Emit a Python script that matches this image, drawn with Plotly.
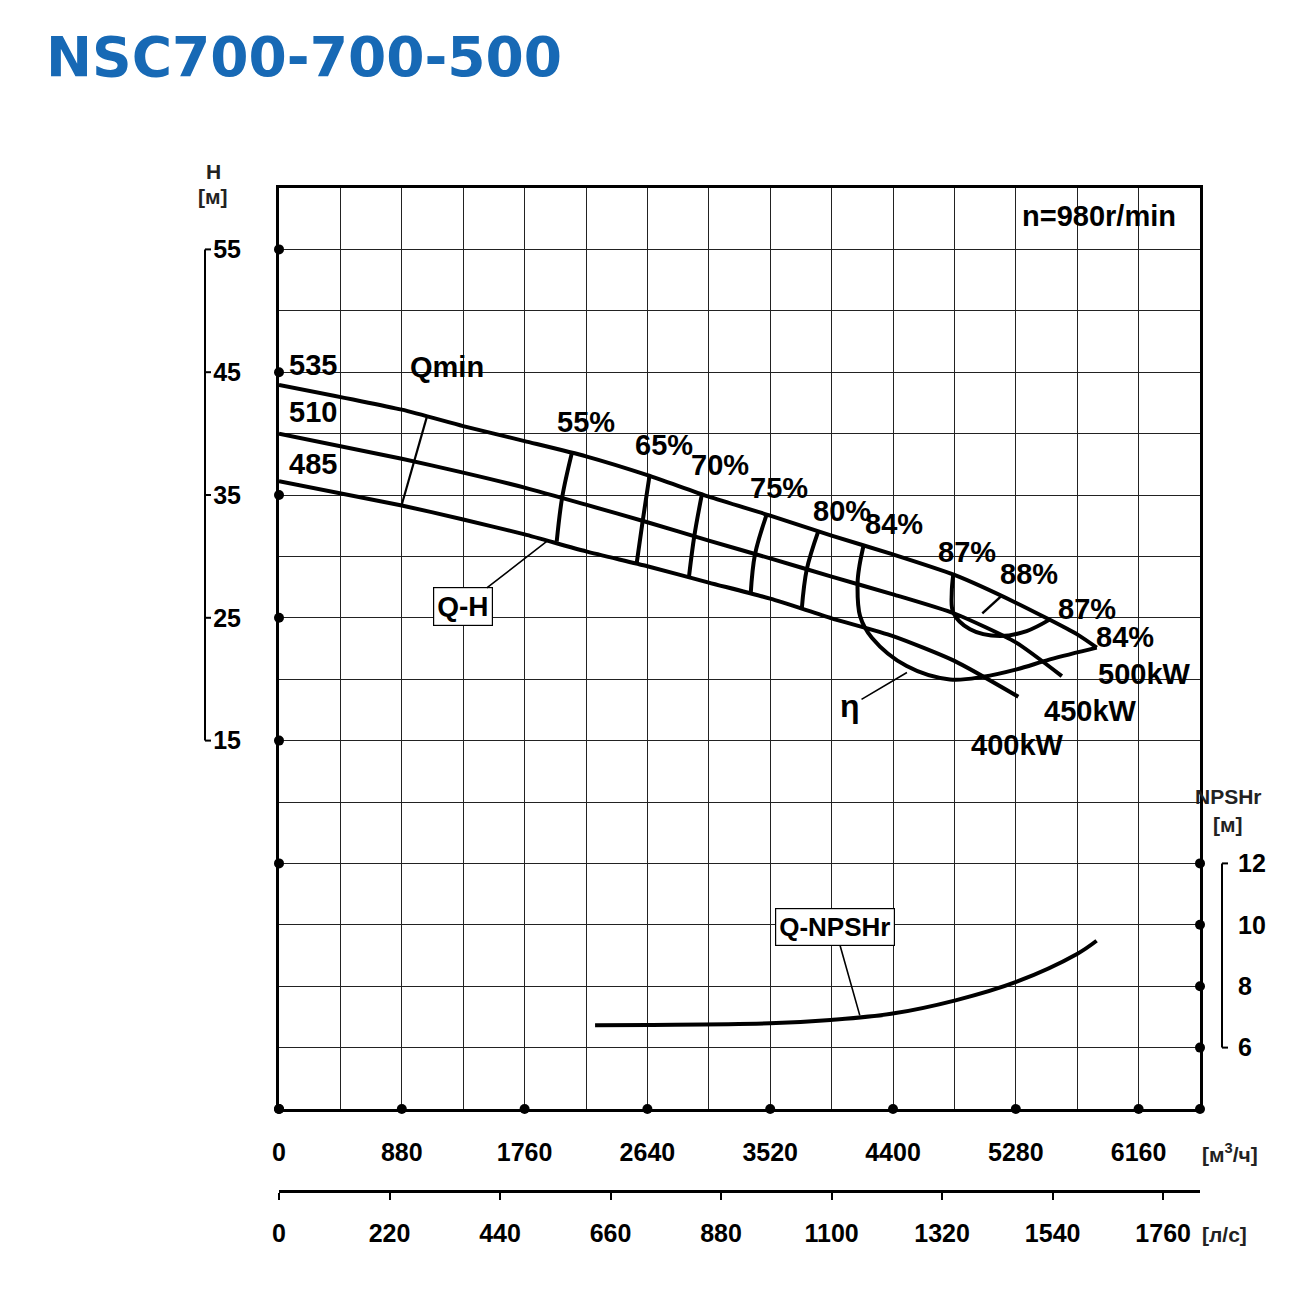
import plotly.graph_objects as go

# ---------------- data ----------------
# Q-H curves (Q in m3/h, H in m) for impeller diameters
q_535 = [0, 880, 1320, 1760, 2200, 2640, 3080, 3520, 3960, 4400, 4840, 5280, 5720, 5860]
h_535 = [43.97, 41.95, 40.61, 39.39, 38.15, 36.62, 34.87, 33.32, 31.69, 30.16, 28.49, 26.23, 23.65, 22.57]
q_510 = [0, 880, 1320, 1760, 2200, 2640, 3080, 3520, 3960, 4400, 4840, 5280, 5610]
h_510 = [40.0, 37.95, 36.82, 35.6, 34.21, 32.78, 31.29, 29.84, 28.35, 26.91, 25.35, 23.0, 20.25]
q_485 = [0, 880, 1320, 1760, 2200, 2640, 3080, 3520, 3960, 4400, 4840, 5298]
h_485 = [36.13, 34.14, 33.01, 31.79, 30.41, 29.2, 27.87, 26.56, 24.96, 23.51, 21.49, 18.57]

# iso-efficiency segments (top -> middle -> bottom curve)
eff_names = ["55%", "65%", "70%", "75%", "80%"]
eff_q = [[2098, 2030, 1990], [2654, 2606, 2563], [3029, 2976, 2938], [3495, 3411, 3380], [3865, 3782, 3746]]
eff_h = [[38.39, 34.86, 31.2], [36.49, 32.87, 29.43], [34.97, 31.65, 28.35], [33.42, 30.16, 26.91], [32.06, 28.94, 25.68]]

# iso-efficiency loops
q_84 = [4187, 4159, 4146, 4164, 4250, 4498, 4808, 5047, 5286, 5525, 5860]
h_84 = [30.79, 29.2, 27.8, 25.14, 23.36, 21.07, 19.98, 20.2, 20.8, 21.61, 22.57]
q_87 = [4832, 4821, 4832, 4952, 5167, 5358, 5525]
h_87 = [28.53, 27.04, 25.42, 24.06, 23.51, 23.92, 24.87]
q_88 = [5040, 5172]
h_88 = [25.36, 26.72]

# minimum flow line
q_min = [1058, 879]
h_min = [41.3, 34.18]

# Q-NPSHr curve (m)
q_npsh = [2265, 2648, 3518, 3952, 4387, 4848, 5283, 5719, 5859]
npsh = [6.73, 6.74, 6.79, 6.90, 7.10, 7.54, 8.14, 9.05, 9.48]

# text labels: (text, Q, H)
curve_labels = [("535", 244, 45.55), ("510", 244, 41.73), ("485", 244, 37.49),
                ("Qmin", 1204, 45.39),
                ("55%", 2200, 40.91), ("65%", 2759, 39.04), ("70%", 3160, 37.41),
                ("75%", 3583, 35.54), ("80%", 4035, 33.66), ("84%", 4407, 32.61),
                ("87%", 4930, 30.33), ("88%", 5375, 28.53), ("87%", 5790, 25.68),
                ("84%", 6063, 23.40), ("500kW", 6199, 20.39), ("450kW", 5812, 17.38),
                ("400kW", 5289, 14.61), ("n=980r/min", 5876, 57.69)]

# axes
q_grid = list(range(0, 6601, 440))
q_tick_labels = ["0", "", "880", "", "1760", "", "2640", "", "3520", "", "4400", "", "5280", "", "6160", ""]
h_grid = list(range(-15, 61, 5))
h_labeled = [55, 45, 35, 25, 15]
h_dots = [55, 45, 35, 25, 15, 5, -15]
q_dots = [0, 880, 1760, 2640, 3520, 4400, 5280, 6160]
npsh_ticks = [6, 8, 10, 12]
npsh_dots = [12, 10, 8, 6, 4]
ls_ticks = [0, 220, 440, 660, 880, 1100, 1320, 1540, 1760]

title_text = "NSC700-700-500"

# ---------------- layout helpers ----------------
W, Hpx = 1310, 1295
X0, X1 = 279 / W, 1200 / W
Y0, Y1 = 1 - 1109 / Hpx, 1 - 188 / Hpx

FONT = "Liberation Sans, Arial, sans-serif"
LW = 4

fig = go.Figure()

for q, h in [(q_535, h_535), (q_510, h_510), (q_485, h_485)]:
    fig.add_trace(go.Scatter(x=q, y=h, mode="lines", line=dict(color="black", width=LW, shape="spline", smoothing=0.6),
                             showlegend=False, hoverinfo="skip"))

for q, h in zip(eff_q, eff_h):
    fig.add_trace(go.Scatter(x=q, y=h, mode="lines", line=dict(color="black", width=LW, shape="spline"),
                             showlegend=False, hoverinfo="skip"))

for q, h, w in [(q_84, h_84, LW), (q_87, h_87, LW), (q_88, h_88, 2.5), (q_min, h_min, 2.2)]:
    fig.add_trace(go.Scatter(x=q, y=h, mode="lines", line=dict(color="black", width=w, shape="spline"),
                             showlegend=False, hoverinfo="skip"))

fig.add_trace(go.Scatter(x=q_npsh, y=npsh, yaxis="y2", mode="lines",
                         line=dict(color="black", width=LW, shape="spline"), showlegend=False, hoverinfo="skip"))

# invisible trace to activate the l/s axis
fig.add_trace(go.Scatter(x=[q / 3.6 for q in q_npsh], y=npsh, xaxis="x2", yaxis="y2", mode="lines",
                         line=dict(width=0), opacity=0, showlegend=False, hoverinfo="skip"))

# axis dots
fig.add_trace(go.Scatter(x=[0] * len(h_dots), y=h_dots, mode="markers", marker=dict(color="black", size=10),
                         cliponaxis=False, showlegend=False, hoverinfo="skip"))
fig.add_trace(go.Scatter(x=q_dots, y=[-15] * len(q_dots), mode="markers", marker=dict(color="black", size=10),
                         cliponaxis=False, showlegend=False, hoverinfo="skip"))
fig.add_trace(go.Scatter(x=[6600] * len(npsh_dots), y=npsh_dots, yaxis="y2", mode="markers",
                         marker=dict(color="black", size=10), cliponaxis=False, showlegend=False, hoverinfo="skip"))

ann = []
for t, q, h in curve_labels:
    ann.append(dict(text=t, x=q, y=h, xref="x", yref="y", showarrow=False,
                    font=dict(family=FONT, size=29, color="black", weight="bold")))

# boxed labels with leaders
ann.append(dict(text="Q-H", x=1928, y=31.3, ax=1315, ay=25.89, xref="x", yref="y", axref="x", ayref="y",
                showarrow=True, arrowhead=0, arrowwidth=1.6, arrowcolor="black",
                bordercolor="black", borderwidth=1.2, borderpad=3, bgcolor="white",
                font=dict(family=FONT, size=28, color="black", weight="bold")))
ann.append(dict(text="Q-NPSHr", x=4162, y=7.05, ax=3984, ay=9.92, xref="x", yref="y2", axref="x", ayref="y2",
                showarrow=True, arrowhead=0, arrowwidth=1.6, arrowcolor="black",
                bordercolor="black", borderwidth=1.2, borderpad=3, bgcolor="white",
                font=dict(family=FONT, size=26, color="black", weight="bold")))
ann.append(dict(text="η", x=4500, y=20.55, ax=4092, ay=17.8, xref="x", yref="y", axref="x", ayref="y",
                showarrow=True, arrowhead=0, arrowwidth=1.6, arrowcolor="black",
                font=dict(family=FONT, size=32, color="black", weight="bold")))

# axis unit labels
for t, px, py in [("H", 213, 171), ("[м]", 213, 197), ("NPSHr", 1228, 797), ("[м]", 1228, 824),
                  ("[м<sup>3</sup>/ч]", 1230, 1153), ("[л/с]", 1224, 1234)]:
    ann.append(dict(text=t, x=px / W, y=1 - py / Hpx, xref="paper", yref="paper", showarrow=False,
                    xanchor="center", yanchor="middle",
                    font=dict(family=FONT, size=21, color="#222", weight="bold")))

ann.append(dict(text=title_text, x=44 / W, y=1 - 57 / Hpx, xref="paper", yref="paper", showarrow=False,
                xanchor="left", yanchor="middle",
                font=dict(family="DejaVu Sans, Verdana, sans-serif", size=55, color="#1769b5", weight="bold")))

# brackets
shapes = []
bl, bs = 205 / W, 211 / W
shapes.append(dict(type="line", xref="paper", yref="y", x0=bl, x1=bl, y0=min(h_labeled), y1=max(h_labeled),
                   line=dict(color="black", width=2)))
for h in h_labeled:
    shapes.append(dict(type="line", xref="paper", yref="y", x0=bl, x1=bs, y0=h, y1=h,
                       line=dict(color="black", width=2)))
br, brs = 1222 / W, 1228 / W
shapes.append(dict(type="line", xref="paper", yref="y2", x0=br, x1=br, y0=min(npsh_ticks), y1=max(npsh_ticks),
                   line=dict(color="black", width=2)))
for v in [min(npsh_ticks), max(npsh_ticks)]:
    shapes.append(dict(type="line", xref="paper", yref="y2", x0=br, x1=brs, y0=v, y1=v,
                       line=dict(color="black", width=2)))

tickfont = dict(family=FONT, size=25, color="black", weight="bold")

fig.update_layout(
    width=W, height=Hpx, margin=dict(l=0, r=0, t=0, b=0),
    paper_bgcolor="white", plot_bgcolor="white",
    annotations=ann, shapes=shapes,
    xaxis=dict(domain=[X0, X1], range=[0, 6600], tickvals=q_grid, ticktext=q_tick_labels,
               showgrid=True, gridcolor="#222", gridwidth=1, zeroline=False,
               showline=True, mirror=True, linecolor="black", linewidth=3, ticks="",
               tickfont=tickfont, ticklabelstandoff=19, automargin=False, fixedrange=True),
    xaxis2=dict(overlaying="x", anchor="free", position=1 - 1191 / Hpx, side="bottom",
                range=[0, 6600 / 3.6], tickvals=ls_ticks, showgrid=False, zeroline=False,
                showline=True, linecolor="black", linewidth=2.5, ticks="outside", ticklen=7,
                tickwidth=1.5, tickcolor="black", tickfont=tickfont, ticklabelstandoff=12,
                automargin=False, fixedrange=True),
    yaxis=dict(domain=[Y0, Y1], range=[-15, 60], tickvals=h_grid,
               ticktext=[str(v) if v in h_labeled else "" for v in h_grid],
               showgrid=True, gridcolor="#222", gridwidth=1, zeroline=False,
               showline=True, mirror=True, linecolor="black", linewidth=3, ticks="",
               tickfont=tickfont, ticklabelstandoff=30, automargin=False, fixedrange=True),
    yaxis2=dict(overlaying="y", side="right", range=[4, 34], tickvals=npsh_ticks,
                showgrid=False, zeroline=False, ticks="", tickfont=tickfont,
                ticklabelstandoff=37, automargin=False, fixedrange=True),
)

fig.write_html("out.html")
